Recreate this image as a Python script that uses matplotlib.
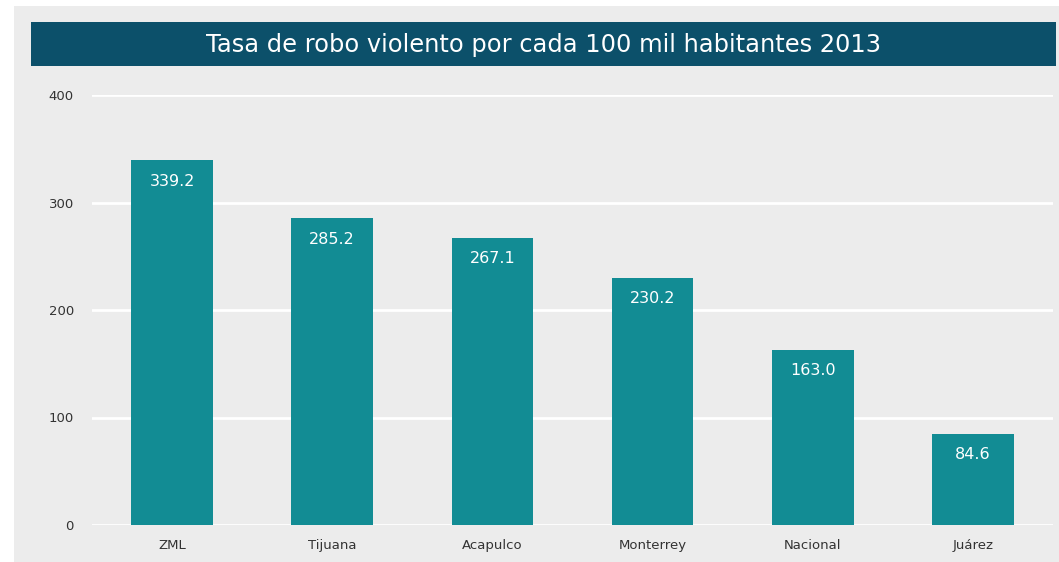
import matplotlib.pyplot as plt
from matplotlib.patches import Rectangle

categories = ["ZML", "Tijuana", "Acapulco", "Monterrey", "Nacional", "Juárez"]
values = [339.2, 285.2, 267.1, 230.2, 163.0, 84.6]
yticks = [0, 100, 200, 300, 400]

plt.rcParams['font.family'] = ['DejaVu Sans']

fig = plt.figure(figsize=(10.59, 5.62), dpi=100)
fig.patch.set_facecolor('white')

# gray panel behind everything
fig.add_artist(Rectangle((14 / 1059, 0), 1 - 14 / 1059, 1 - 6 / 562,
                         transform=fig.transFigure, facecolor='#ececec',
                         edgecolor='none', zorder=0))
# title banner
fig.add_artist(Rectangle((31 / 1059, 1 - 66 / 562), (1056 - 31) / 1059, 44 / 562,
                         transform=fig.transFigure, facecolor='#0c506a',
                         edgecolor='none', zorder=1))
fig.text((31 + 1056) / 2 / 1059, 1 - 45 / 562,
         "Tasa de robo violento por cada 100 mil habitantes 2013",
         ha='center', va='center', color='white', fontsize=17.4, zorder=2)

ax = fig.add_axes([92 / 1059, 1 - 525 / 562, (1053 - 92) / 1059, (525 - 95) / 562])
ax.set_facecolor('none')
x = range(len(categories))
bars = ax.bar(x, values, width=0.51, color='#128c94', zorder=3)
ax.set_xlim(-0.5, len(categories) - 0.5)
ax.set_ylim(0, 400)
ax.set_yticks(yticks)
ax.set_xticks(list(x))
ax.set_xticklabels(categories)
ax.grid(axis='y', color='white', linewidth=2, zorder=1)
ax.set_axisbelow(True)
for s in ax.spines.values():
    s.set_visible(False)
ax.tick_params(length=0, labelsize=9.5, colors='#333333')
ax.tick_params(axis='y', pad=13)
ax.tick_params(axis='x', pad=10)

for b, v in zip(bars, values):
    ax.annotate(f"{v:.1f}", (b.get_x() + b.get_width() / 2, v),
                xytext=(0, -15), textcoords='offset points',
                ha='center', va='center', color='white', fontsize=11.5, zorder=4)

fig.savefig('out.png', dpi=100)
